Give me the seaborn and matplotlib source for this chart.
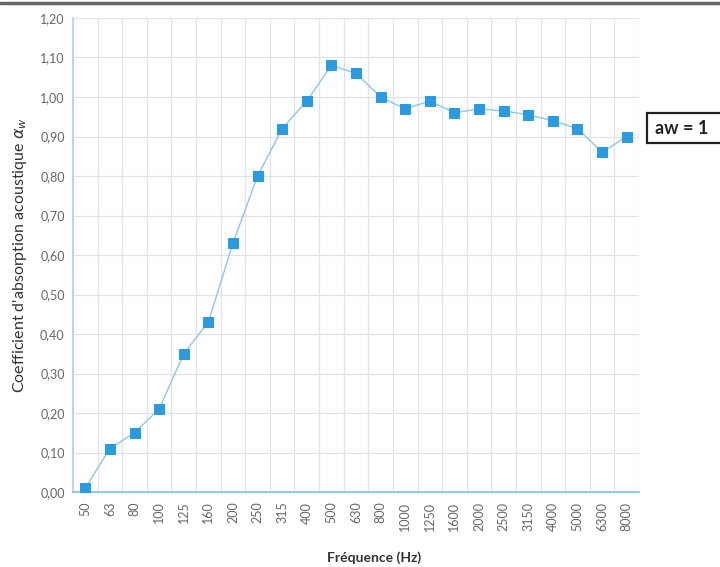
import matplotlib
matplotlib.use("Agg")
import matplotlib.pyplot as plt
import seaborn as sns
import numpy as np
from matplotlib.lines import Line2D
from matplotlib.patches import Rectangle
from matplotlib.ticker import FixedLocator

freqs = ["50", "63", "80", "100", "125", "160", "200", "250", "315", "400", "500",
         "630", "800", "1000", "1250", "1600", "2000", "2500", "3150", "4000",
         "5000", "6300", "8000"]
alpha = [0.01, 0.11, 0.15, 0.21, 0.35, 0.43, 0.63, 0.80, 0.92, 0.99, 1.08,
         1.06, 1.00, 0.97, 0.99, 0.96, 0.97, 0.965, 0.955, 0.94, 0.92, 0.86, 0.90]
yticks = [0.0, 0.1, 0.2, 0.3, 0.4, 0.5, 0.6, 0.7, 0.8, 0.9, 1.0, 1.1, 1.2]

sns.set_theme(style="white")
plt.rcParams['font.family'] = ['Lato', 'DejaVu Sans']

fig = plt.figure(figsize=(7.2, 5.67), dpi=100)
ax = fig.add_axes([73/720, 1 - 492/567, (639 - 73)/720, (492 - 18)/567])

pos = np.arange(len(freqs))
sns.lineplot(x=pos, y=alpha, ax=ax, color="#8cc6ec", linewidth=1.0,
             marker="s", markersize=7, markerfacecolor="#2a9be0",
             markeredgecolor="#2a9be0", sort=False, zorder=3)

ax.set_xlim(-0.5, len(freqs) - 0.5)
ax.set_ylim(0, 1.2)
ax.set_xticks(pos)
ax.set_xticklabels(freqs, rotation=90, fontsize=9, color="#666666")
ax.xaxis.set_minor_locator(FixedLocator(np.arange(len(freqs) + 1) - 0.5))
ax.set_yticks(yticks)
ax.set_yticklabels([f"{v:.2f}".replace(".", ",") for v in yticks], fontsize=9, color="#666666")
ax.grid(False)
ax.grid(which="minor", axis="x", color="#e3e3e3", linewidth=0.9)
ax.grid(which="major", axis="y", color="#e3e3e3", linewidth=0.9)
ax.set_axisbelow(True)
ax.tick_params(axis="x", which="both", length=0, pad=7)
ax.tick_params(axis="y", which="both", length=0, pad=6)

for s in ["top", "right"]:
    ax.spines[s].set_visible(False)
ax.spines["left"].set_color("#a9d4ef")
ax.spines["bottom"].set_color("#7fbde6")
ax.spines["left"].set_linewidth(1.2)
ax.spines["bottom"].set_linewidth(1.2)

ax.set_ylabel("Coefficient d'absorption acoustique $\\alpha_w$", fontsize=11.5,
              color="#333333", labelpad=8)
ax.set_xlabel("")
fig.text(374/720, 1 - 558/567, "Fréquence (Hz)", ha="center", va="center",
         fontsize=10, color="#333333", fontweight="bold")

# top border
fig.add_artist(Line2D([0, 1], [1 - 3/567, 1 - 3/567], color="#666666",
                      linewidth=2.5, transform=fig.transFigure))

# annotation box (cut off at right edge)
fig.add_artist(Rectangle((647/720, 1 - 143/567), 90/720, 30/567,
                         transform=fig.transFigure, facecolor="white",
                         edgecolor="#222222", linewidth=1.6, clip_on=False))
fig.text(655/720, 1 - 128/567, "aw = 1", ha="left", va="center", fontsize=13,
         color="#222222", fontweight="bold")

fig.savefig("out.png", dpi=100)
